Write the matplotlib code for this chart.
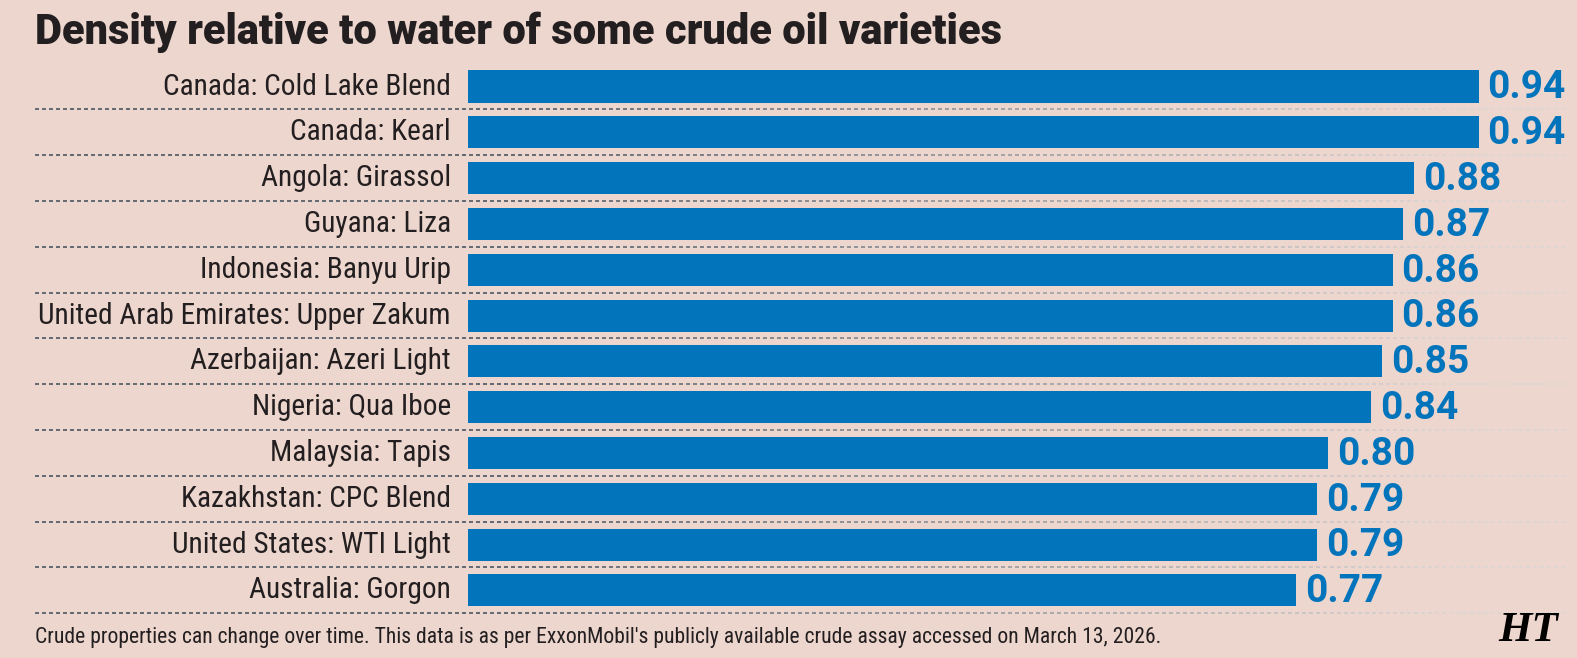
import numpy as np
import matplotlib
matplotlib.use("Agg")
import matplotlib.pyplot as plt
from matplotlib.collections import LineCollection

# data
labels = ["Canada: Cold Lake Blend", "Canada: Kearl", "Angola: Girassol",
          "Guyana: Liza", "Indonesia: Banyu Urip",
          "United Arab Emirates: Upper Zakum", "Azerbaijan: Azeri Light",
          "Nigeria: Qua Iboe", "Malaysia: Tapis", "Kazakhstan: CPC Blend",
          "United States: WTI Light", "Australia: Gorgon"]
density = [0.94, 0.94, 0.88, 0.87, 0.86, 0.86, 0.85, 0.84, 0.80, 0.79,
           0.79, 0.77]

TITLE = "Density relative to water of some crude oil varieties"
NOTE = ("Crude properties can change over time. This data is as per "
        "ExxonMobil's publicly available crude assay accessed on March 13, 2026.")

BG = "#edd6ce"
BLUE = "#0274bc"
INK = "#231f20"
COND = ["Roboto Condensed", "DejaVu Sans"]

W, H = 1577, 658
left = 468.0
step = (590.4 - 86.5) / 11
top = 86.5 - step / 2
bottom = 590.4 + step / 2
fig = plt.figure(figsize=(W / 100, H / 100), dpi=100, facecolor=BG)
ax = fig.add_axes([left / W, 1 - bottom / H, 1 - left / W, (bottom - top) / H])
ax.set_facecolor(BG)

px = 1 / 1075.0  # data units per pixel
xmax = (W - left) * px
ax.set_xlim(0, xmax)
ax.set_ylim(len(labels) - 0.5, -0.5)
ax.axis("off")

y = np.arange(len(labels))
ax.barh(y, density, height=0.70, color=BLUE, zorder=2)

for yi, v, lab in zip(y, density, labels):
    ax.text(v + 9 * px, yi + 0.03, f"{v:.2f}", va="center", ha="left",
            fontsize=28, fontweight="bold", color=BLUE,
            family=["Roboto", "DejaVu Sans"])
    ax.text(-17 * px, yi, lab, va="center", ha="right", fontsize=21.2,
            color=INK, family=COND)

# dashed separators fading from slate on the left to pale on the right
x0, x1 = -433 * px, 1100 * px
starts = np.arange(x0, x1, 7 * px)
dark = np.array([0.34, 0.38, 0.42])
light = np.array([0.87, 0.84, 0.83])
t = np.clip((starts / px + left - 500) / 950.0, 0, 1)[:, None]
cols = dark * (1 - t) + light * t
for yl in y + 0.5:
    segs = [[(s, yl), (s + 4 * px, yl)] for s in starts]
    lc = LineCollection(segs, colors=cols, linewidths=1.3, zorder=1)
    lc.set_clip_on(False)
    ax.add_collection(lc)

fig.text(35 / W, 1 - 32 / H, TITLE, fontsize=30, fontweight=900,
         color=INK, va="center", ha="left", family=["Roboto", "DejaVu Sans"])
fig.text(35 / W, 1 - 638 / H, NOTE, fontsize=15.6, color=INK,
         va="center", ha="left", family=COND)
fig.text(1528 / W, 1 - 631 / H, "HT", fontsize=31, fontweight="bold",
         style="italic", color="black", va="center", ha="center",
         family=["Liberation Serif", "DejaVu Serif"])

fig.savefig("out.png", dpi=100, facecolor=BG)
